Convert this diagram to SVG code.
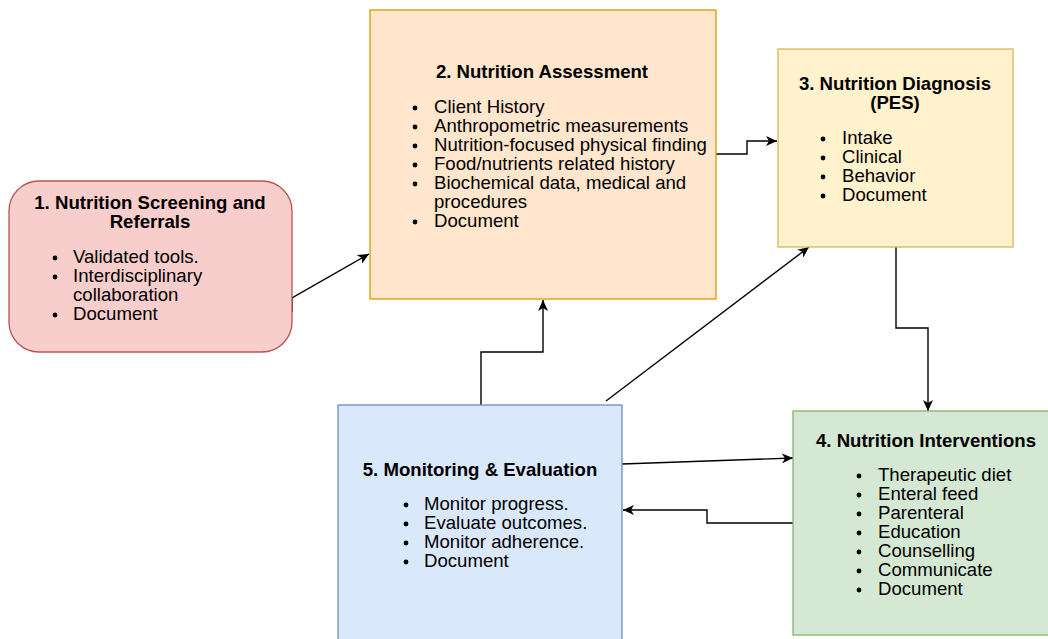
<svg xmlns="http://www.w3.org/2000/svg" width="1048" height="639" viewBox="0 0 1048 639">
<defs>
<marker id="arr" markerUnits="userSpaceOnUse" markerWidth="12" markerHeight="10" refX="11" refY="5" orient="auto">
<path d="M0,0 L11,5 L0,10 L3,5 Z" fill="#000"/>
</marker>
<style>
text{font-family:"Liberation Sans",Arial,sans-serif;font-size:18.6px;fill:#000}
.t{font-weight:bold;text-anchor:middle}
.b{fill:#000}
.c{fill:none;stroke:#000;stroke-width:1.4;marker-end:url(#arr)}
</style>
</defs>
<rect width="1048" height="639" fill="#fff"/>
<g id="connectors">
<path class="c" d="M292,312 L292,298 L369,254"/>
<path class="c" d="M716,154 L747,154 L747,141 L777,141"/>
<path class="c" d="M896,247 L896,328 L928,328 L928,411"/>
<path class="c" d="M481,405 L481,352 L543,352 L543,300"/>
<path class="c" d="M606,401 L809,247"/>
<path class="c" d="M622,464 L793,458"/>
<path class="c" d="M793,523 L707,523 L707,510 L623,510"/>
</g>
<g id="node1">
<rect x="9" y="181" width="283" height="171" rx="30" ry="30" fill="#f8cecc" stroke="#b85450" stroke-width="1.3"/>
<text class="t" x="150" y="209">1. Nutrition Screening and</text>
<text class="t" x="150" y="228">Referrals</text>
<circle class="b" cx="55" cy="258" r="2.4"/><text x="73" y="263">Validated tools.</text>
<circle class="b" cx="55" cy="277" r="2.4"/><text x="73" y="282">Interdisciplinary</text>
<text x="73" y="301">collaboration</text>
<circle class="b" cx="55" cy="315" r="2.4"/><text x="73" y="320">Document</text>
</g>
<g id="node2">
<rect x="370" y="10" width="346" height="289" fill="#ffe6cc" stroke="#d79b00" stroke-width="1.3"/>
<text class="t" x="542" y="78">2. Nutrition Assessment</text>
<circle class="b" cx="415" cy="108" r="2.4"/><text x="434" y="113">Client History</text>
<circle class="b" cx="415" cy="127" r="2.4"/><text x="434" y="132">Anthropometric measurements</text>
<circle class="b" cx="415" cy="146" r="2.4"/><text x="434" y="151">Nutrition-focused physical finding</text>
<circle class="b" cx="415" cy="165" r="2.4"/><text x="434" y="170">Food/nutrients related history</text>
<circle class="b" cx="415" cy="184" r="2.4"/><text x="434" y="189">Biochemical data, medical and</text>
<text x="434" y="208">procedures</text>
<circle class="b" cx="415" cy="222" r="2.4"/><text x="434" y="227">Document</text>
</g>
<g id="node3">
<rect x="778" y="49" width="235" height="198" fill="#fff2cc" stroke="#d6b656" stroke-width="1.3"/>
<text class="t" x="895" y="90">3. Nutrition Diagnosis</text>
<text class="t" x="895" y="109">(PES)</text>
<circle class="b" cx="823" cy="139" r="2.4"/><text x="842" y="144">Intake</text>
<circle class="b" cx="823" cy="158" r="2.4"/><text x="842" y="163">Clinical</text>
<circle class="b" cx="823" cy="177" r="2.4"/><text x="842" y="182">Behavior</text>
<circle class="b" cx="823" cy="196" r="2.4"/><text x="842" y="201">Document</text>
</g>
<g id="node4">
<rect x="793" y="411" width="267" height="224" fill="#d5e8d4" stroke="#82b366" stroke-width="1.3"/>
<text class="t" x="926" y="447">4. Nutrition Interventions</text>
<circle class="b" cx="859" cy="476" r="2.4"/><text x="878" y="481">Therapeutic diet</text>
<circle class="b" cx="859" cy="495" r="2.4"/><text x="878" y="500">Enteral feed</text>
<circle class="b" cx="859" cy="514" r="2.4"/><text x="878" y="519">Parenteral</text>
<circle class="b" cx="859" cy="533" r="2.4"/><text x="878" y="538">Education</text>
<circle class="b" cx="859" cy="552" r="2.4"/><text x="878" y="557">Counselling</text>
<circle class="b" cx="859" cy="571" r="2.4"/><text x="878" y="576">Communicate</text>
<circle class="b" cx="859" cy="590" r="2.4"/><text x="878" y="595">Document</text>
</g>
<g id="node5">
<rect x="338" y="405" width="284" height="260" fill="#dae8fc" stroke="#6c8ebf" stroke-width="1.3"/>
<text class="t" x="480" y="476">5. Monitoring &amp; Evaluation</text>
<circle class="b" cx="406" cy="505" r="2.4"/><text x="424" y="510">Monitor progress.</text>
<circle class="b" cx="406" cy="524" r="2.4"/><text x="424" y="529">Evaluate outcomes.</text>
<circle class="b" cx="406" cy="543" r="2.4"/><text x="424" y="548">Monitor adherence.</text>
<circle class="b" cx="406" cy="562" r="2.4"/><text x="424" y="567">Document</text>
</g>
</svg>
